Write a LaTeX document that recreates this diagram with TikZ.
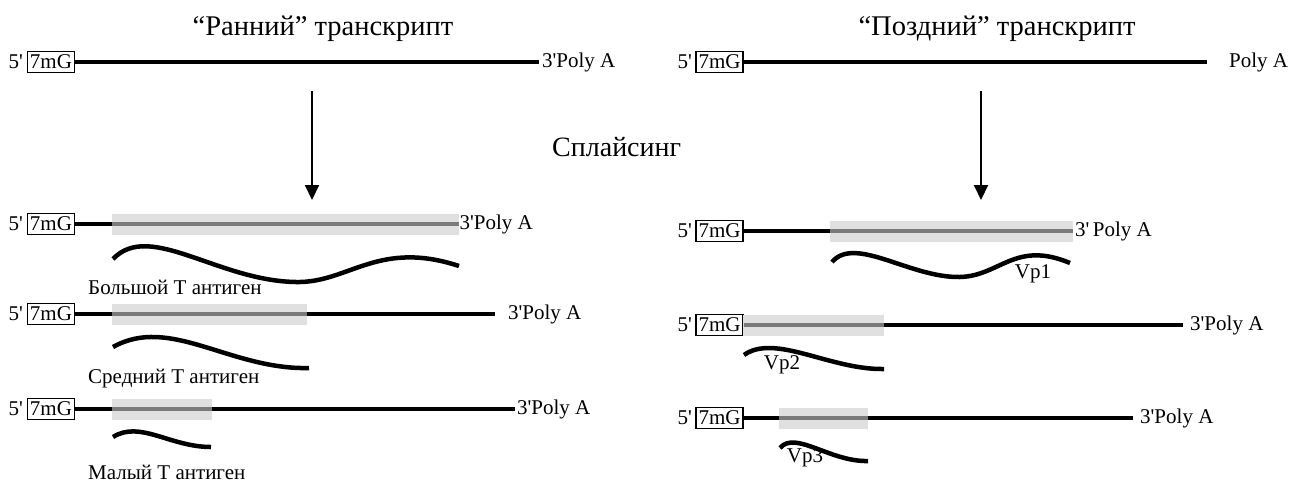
\documentclass[tikz,border=0pt]{standalone}
\usepackage{fontspec}
\setmainfont{Liberation Serif}
\usetikzlibrary{arrows.meta}

\tikzset{
  rna/.style={line width=4pt},
  exon/.style={fill=black!12, draw=none, inner sep=0pt, minimum height=21pt, anchor=west},
  exonline/.style={line width=3.5pt, draw=black!52},
  prot/.style={line width=4.5pt},
  capbox/.style={draw, line width=1.3pt, inner sep=0pt, minimum width=47pt, minimum height=21pt, font=\fontsize{21}{22}\selectfont},
  lbl/.style={inner sep=0pt, font=\fontsize{21}{23}\selectfont},
  ttl/.style={inner sep=0pt, font=\fontsize{28.5}{31}\selectfont},
  splice/.style={line width=2pt, -{Triangle[length=15pt,width=14pt]}},
}

\begin{document}
\begin{tikzpicture}[x=1pt, y=-1pt]
		\useasboundingbox (0,0) rectangle (1294,483);

		\node[ttl] (early) at (323,29) {“Ранний” транскрипт};
		\node[ttl] (late) at (997,29) {“Поздний” транскрипт};
		\node[ttl, anchor=west, font=\fontsize{28}{31}\selectfont] (splicing) at (552,147) {Сплайсинг};

		\node[capbox] (capA) at (51,62) {7mG};
		\node[lbl, anchor=east] (fiveA) at (23,62) {5\textquotesingle};
		\node[lbl, anchor=west] (polyA) at (542,62) {3\textquotesingle Poly A};
		\coordinate (endA) at (539,62);
		\draw[rna] (capA.east) -- (endA);

		\node[capbox] (capE) at (719.5,62) {7mG};
		\node[lbl, anchor=east] (fiveE) at (692,62) {5\textquotesingle};
		\node[lbl, anchor=west] (polyE) at (1229,62) {Poly A};
		\coordinate (endE) at (1207,62);
		\draw[rna] (capE.east) -- (endE);

		\coordinate (arrL0) at (312,91);
		\coordinate (arrL1) at (312,200);
		\draw[splice] (arrL0) -- (arrL1);
		\coordinate (arrR0) at (981,91);
		\coordinate (arrR1) at (981,200);
		\draw[splice] (arrR0) -- (arrR1);

		\node[capbox] (capB) at (51,224) {7mG};
		\node[lbl, anchor=east] (fiveB) at (23,224) {5\textquotesingle};
		\node[exon, minimum width=347pt] (exB) at (112,224) {};
		\node[lbl, anchor=west] (polyB) at (exB.east) {3\textquotesingle Poly A};
		\draw[rna] (capB.east) -- (exB.west);
		\draw[exonline] (exB.west) -- (exB.east);
		\draw[prot] (113,259) .. controls (150,220) and (220,283) .. (300,282) .. controls (350,281) and (380,240) .. (459,266);
		\node[lbl, anchor=west] (bigT) at (88,287) {Большой Т антиген};

		\node[capbox] (capC) at (51,314) {7mG};
		\node[lbl, anchor=east] (fiveC) at (23,314) {5\textquotesingle};
		\node[exon, minimum width=195pt] (exC) at (112,314) {};
		\node[lbl, anchor=west] (polyC) at (508,314) {3\textquotesingle Poly A};
		\coordinate (endC) at (495,314);
		\draw[rna] (capC.east) -- (exC.west);
		\draw[rna] (exC.east) -- (endC);
		\draw[exonline] (exC.west) -- (exC.east);
		\draw[prot] (113,347) .. controls (170,315) and (230,370) .. (309,368);
		\node[lbl, anchor=west] (midT) at (88,379) {Средний Т антиген};

		\node[capbox] (capD) at (51,409) {7mG};
		\node[lbl, anchor=east] (fiveD) at (23,409) {5\textquotesingle};
		\node[exon, minimum width=100pt] (exD) at (112,409) {};
		\node[lbl, anchor=west] (polyD) at (517,409) {3\textquotesingle Poly A};
		\coordinate (endD) at (515,409);
		\draw[rna] (capD.east) -- (exD.west);
		\draw[rna] (exD.east) -- (endD);
		\draw[exonline] (exD.west) -- (exD.east);
		\draw[prot] (113,437) .. controls (140,420) and (170,447) .. (211,447);
		\node[lbl, anchor=west] (smallT) at (88,472) {Малый Т антиген};

		\node[capbox] (capF) at (719.5,231) {7mG};
		\node[lbl, anchor=east] (fiveF) at (692,231) {5\textquotesingle};
		\node[exon, minimum width=243pt] (exF) at (830,231) {};
		\node[lbl, anchor=west] (polyF) at (1075,231) {3\textquotesingle\,Poly A};
		\draw[rna] (capF.east) -- (exF.west);
		\draw[exonline] (exF.west) -- (exF.east);
		\draw[prot] (832,262) .. controls (855,235) and (910,278) .. (960,277) .. controls (1000,276) and (1015,240) .. (1070,263);
		\node[lbl] (vp1) at (1033,274) {Vp1};

		\node[capbox] (capG) at (719.5,325) {7mG};
		\node[lbl, anchor=east] (fiveG) at (692,325) {5\textquotesingle};
		\node[exon, minimum width=141pt] (exG) at (743,325) {};
		\node[lbl, anchor=west] (polyG) at (1190,325) {3\textquotesingle Poly A};
		\coordinate (endG) at (1183,325);
		\draw[rna] (exG.east) -- (endG);
		\draw[exonline] (capG.east) -- (exG.east);
		\draw[prot] (744,355) .. controls (775,333) and (830,370) .. (884,369);
		\node[lbl] (vp2) at (782,365) {Vp2};

		\node[capbox] (capH) at (719.5,418) {7mG};
		\node[lbl, anchor=east] (fiveH) at (692,418) {5\textquotesingle};
		\node[exon, minimum width=89pt] (exH) at (779,418) {};
		\node[lbl, anchor=west] (polyH) at (1140,418) {3\textquotesingle Poly A};
		\coordinate (endH) at (1133,418);
		\draw[rna] (capH.east) -- (exH.west);
		\draw[rna] (exH.east) -- (endH);
		\draw[exonline] (exH.west) -- (exH.east);
		\draw[prot] (780,448) .. controls (795,430) and (830,462) .. (868,461);
		\node[lbl] (vp3) at (805,458) {Vp3};
	\end{tikzpicture}
\end{document}
